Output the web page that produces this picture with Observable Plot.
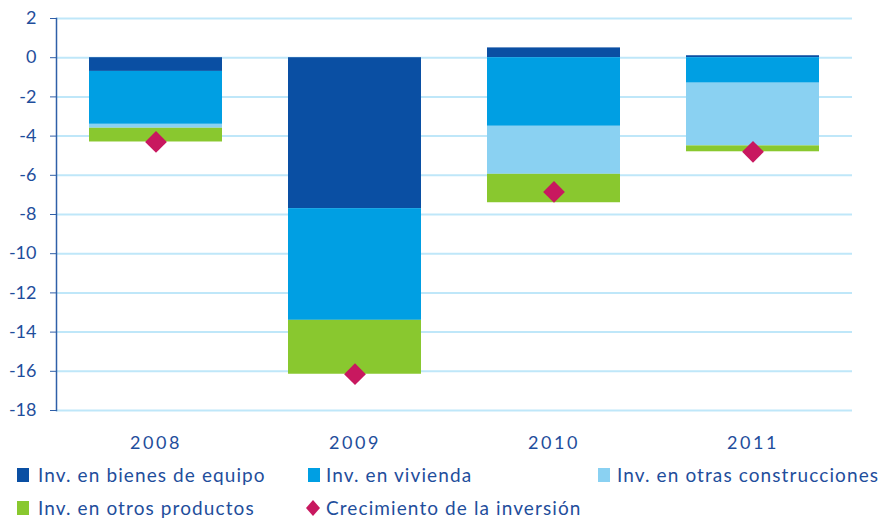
<!DOCTYPE html>
<html>
<head>
<meta charset="utf-8">
<script src="https://cdn.jsdelivr.net/npm/d3@7"></script>
<script src="https://cdn.jsdelivr.net/npm/@observablehq/plot@0.6"></script>
<style>
  html, body { margin: 0; padding: 0; background: #fff; }
  #wrap { position: relative; width: 880px; height: 520px; font-family: Lato, "Open Sans", sans-serif; color: #1f4e9c; overflow: hidden; }
  .leg { position: absolute; font-size: 19px; white-space: nowrap; letter-spacing: 1.1px; line-height: 20px; }
  .sw { position: absolute; width: 12px; height: 14px; }
</style>
</head>
<body>
<div id="wrap">
  <div id="chart"></div>
</div>
<script>
const years = ["2008", "2009", "2010", "2011"];
const series = ["Inv. en bienes de equipo", "Inv. en vivienda", "Inv. en otras construcciones", "Inv. en otros productos"];
const colors = ["#0a4fa3", "#009fe3", "#8ad1f2", "#89c82f"];
const equipo = [-0.7, -7.7, 0.5, 0.1];
const vivienda = [-2.7, -5.7, -3.5, -1.3];
const otras = [-0.2, 0, -2.45, -3.2];
const otros = [-0.7, -2.75, -1.45, -0.3];
const crecimiento = [-4.3, -16.15, -6.85, -4.8];
const growthLabel = "Crecimiento de la inversión";
const diamondColor = "#c8185f";
const yTicks = [-18, -16, -14, -12, -10, -8, -6, -4, -2, 0, 2];

const seriesValues = [equipo, vivienda, otras, otros];
const rows = [];
seriesValues.forEach((vals, si) => {
  years.forEach((yr, i) => rows.push({year: yr, series: series[si], value: vals[i]}));
});
const growth = years.map((yr, i) => ({year: yr, value: crecimiento[i]}));

const textColor = "#1f4e9c";
const chart = Plot.plot({
  width: 880,
  height: 455,
  marginTop: 18,
  marginBottom: 45,
  marginLeft: 56,
  marginRight: 28,
  style: {fontFamily: "Lato, 'Open Sans', sans-serif", background: "transparent"},
  x: {domain: years, paddingInner: 0.33, paddingOuter: 0.165, label: null},
  y: {domain: [-18, 2], label: null},
  color: {domain: series, range: colors},
  marks: [
    Plot.ruleY(yTicks, {stroke: "#bfe7f9", strokeWidth: 2}),
    Plot.barY(rows, {x: "year", y: "value", fill: "series", order: series}),
    Plot.dot(growth, {x: "year", y: "value", symbol: "diamond2", r: 9.8, fill: diamondColor, stroke: null}),
    Plot.axisY(yTicks, {tickSize: 6, tickPadding: 14, tickFormat: d => String(d), fontSize: 18, color: textColor, stroke: "#2f5fa8"}),
    Plot.axisX({tickSize: 0, tickPadding: 26, fontSize: 18, color: textColor}),
    Plot.frame({anchor: "left", stroke: "#2f5fa8", strokeWidth: 1.5})
  ]
});
document.getElementById("chart").appendChild(chart);
d3.select(chart).selectAll("g[aria-label^='x-axis'] text")
  .style("letter-spacing", "2.6px");

// Legend (HTML, below the chart)
const wrap = document.getElementById("wrap");
const legendItems = [
  {label: series[0], color: colors[0], sx: 17, tx: 38, y: 465, kind: "sq"},
  {label: series[1], color: colors[1], sx: 308, tx: 326, y: 465, kind: "sq"},
  {label: series[2], color: colors[2], sx: 598, tx: 617, y: 465, kind: "sq"},
  {label: series[3], color: colors[3], sx: 17, tx: 38, y: 498, kind: "sq"},
  {label: growthLabel, color: diamondColor, sx: 306, tx: 326, y: 498, kind: "dia"}
];
legendItems.forEach(it => {
  if (it.kind === "sq") {
    const s = document.createElement("div");
    s.className = "sw";
    s.style.left = it.sx + "px";
    s.style.top = (it.y + 3) + "px";
    s.style.background = it.color;
    wrap.appendChild(s);
  } else {
    const ns = "http://www.w3.org/2000/svg";
    const svg = document.createElementNS(ns, "svg");
    svg.setAttribute("width", 14);
    svg.setAttribute("height", 16);
    svg.style.position = "absolute";
    svg.style.left = it.sx + "px";
    svg.style.top = (it.y + 2) + "px";
    const p = document.createElementNS(ns, "polygon");
    p.setAttribute("points", "7,0 14,8 7,16 0,8");
    p.setAttribute("fill", it.color);
    svg.appendChild(p);
    wrap.appendChild(svg);
  }
  const t = document.createElement("div");
  t.className = "leg";
  t.style.left = it.tx + "px";
  t.style.top = it.y + "px";
  t.textContent = it.label;
  wrap.appendChild(t);
});
</script>
</body>
</html>
